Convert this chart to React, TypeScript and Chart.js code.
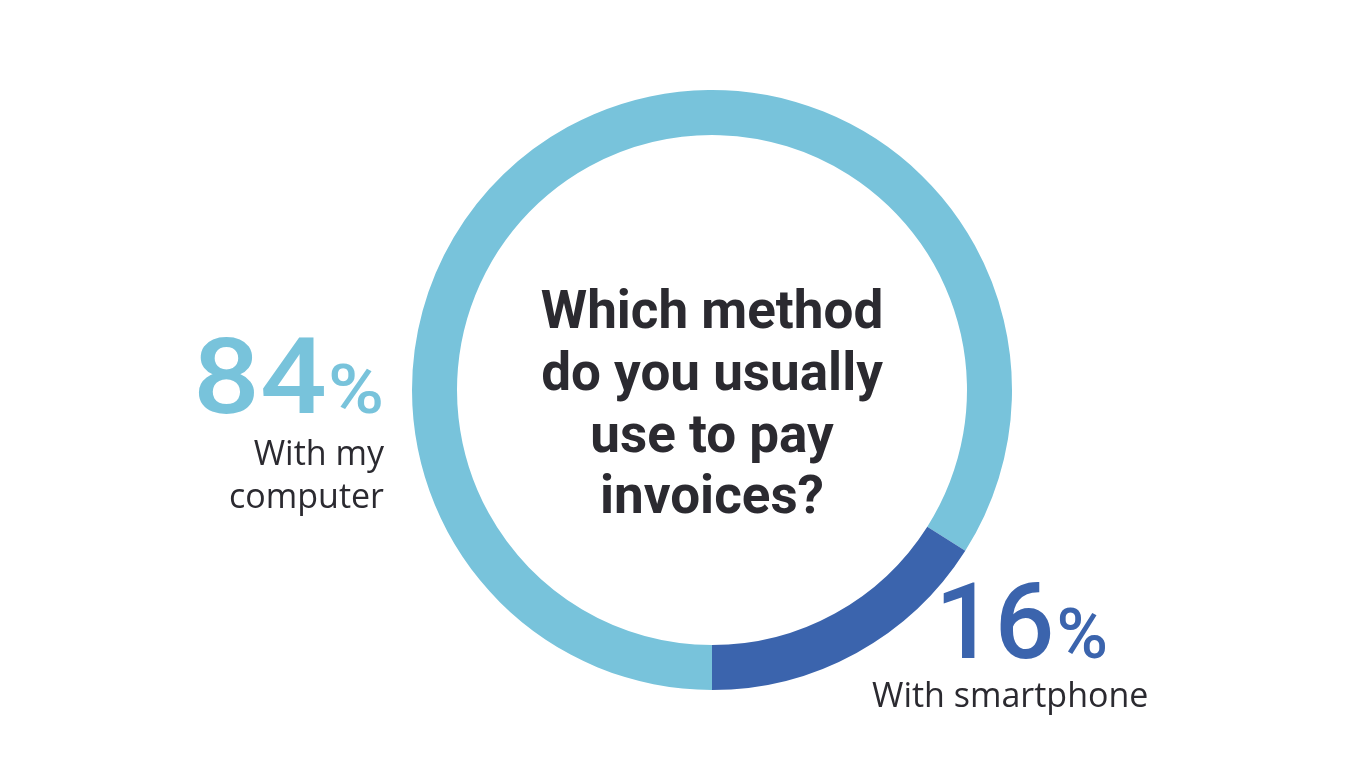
import React, { useEffect, useRef } from "react";
import { Chart, registerables } from "chart.js";

Chart.register(...registerables);

const categories = ["With my computer", "With smartphone"];
const values = [84, 16];
const percentLabels = ["84", "16"];
const colors = ["#78C3DB", "#3B64AD"];
const titleLines = ["Which method", "do you usually", "use to pay", "invoices?"];
const computerLines = ["With my", "computer"];
const textColor = "#2B2A30";

export default function App() {
  const canvasRef = useRef<HTMLCanvasElement | null>(null);

  useEffect(() => {
    const canvas = canvasRef.current;
    if (!canvas) return;
    const chart = new Chart(canvas, {
      type: "doughnut",
      data: {
        labels: categories,
        datasets: [
          {
            data: values,
            backgroundColor: colors,
            borderWidth: 0,
            hoverOffset: 0,
          },
        ],
      },
      options: {
        animation: false,
        responsive: false,
        maintainAspectRatio: false,
        cutout: "85%",
        rotation: 180,
        layout: { padding: { top: 90, bottom: 78, left: 58, right: 0 } },
        plugins: {
          legend: { display: false },
          tooltip: { enabled: false },
          title: { display: false },
        },
      },
    });
    return () => chart.destroy();
  }, []);

  const titleBaselines = [328, 390, 452, 513];

  return (
    <div
      style={{
        position: "fixed",
        left: 0,
        top: 0,
        width: 1366,
        height: 768,
        background: "#ffffff",
      }}
    >
      <canvas
        ref={canvasRef}
        width={1366}
        height={768}
        style={{ position: "absolute", left: 0, top: 0, width: 1366, height: 768 }}
      />
      <svg
        width={1366}
        height={768}
        style={{ position: "absolute", left: 0, top: 0 }}
      >
        {titleLines.map((line, i) => (
          <text
            key={i}
            x={712}
            y={titleBaselines[i]}
            textAnchor="middle"
            fill={textColor}
            fontFamily="Roboto"
            fontWeight={700}
            fontSize={53}
          >
            {line}
          </text>
        ))}
        <text
          x={384}
          y={413}
          textAnchor="end"
          fill={colors[0]}
          fontFamily="Roboto"
          fontWeight={500}
          fontSize={105}
          transform="translate(384,0) scale(1.12,1) translate(-384,0)"
        >
          {percentLabels[0]}
          <tspan fontSize={68} dx={1}>%</tspan>
        </text>
        {computerLines.map((line, i) => (
          <text
            key={i}
            x={384}
            y={465 + i * 43}
            textAnchor="end"
            fill={textColor}
            fontFamily="Open Sans"
            fontSize={34}
          >
            {line}
          </text>
        ))}
        <text
          x={1108}
          y={658}
          textAnchor="end"
          fill={colors[1]}
          fontFamily="Roboto"
          fontWeight={500}
          fontSize={105}
        >
          {percentLabels[1]}
          <tspan fontSize={70} dx={2}>%</tspan>
        </text>
        <text
          x={872}
          y={707}
          textAnchor="start"
          fill={textColor}
          fontFamily="Open Sans"
          fontSize={34}
        >
          {categories[1]}
        </text>
      </svg>
    </div>
  );
}
